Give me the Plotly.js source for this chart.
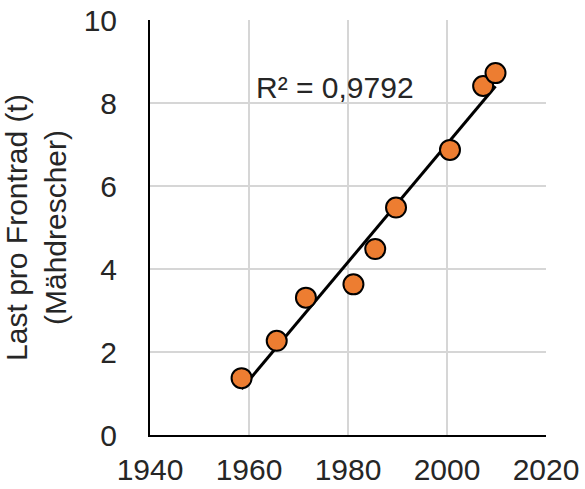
<!DOCTYPE html>
<html>
<head>
<meta charset="utf-8">
<script src="https://cdn.plot.ly/plotly-3.0.1.min.js"></script>
<style>html,body{margin:0;padding:0;background:#fff;}#chart{width:585px;height:489px;}</style>
</head>
<body>
<div id="chart"></div>
<script>
// Data
const years = [1958.5, 1965.6, 1971.5, 1981.1, 1985.5, 1989.7, 2000.6, 2007.3, 2009.8];
const loads = [1.37, 2.27, 3.31, 3.63, 4.48, 5.48, 6.87, 8.41, 8.72];
const xTicks = [1940, 1960, 1980, 2000, 2020];
const yTicks = [0, 2, 4, 6, 8, 10];
const r2Label = "R² = 0,9792";
const yTitle = "Last pro Frontrad (t)<br>(Mähdrescher)";

// Linear least-squares trendline over the data range
const n = years.length;
const mx = years.reduce((a, b) => a + b, 0) / n;
const my = loads.reduce((a, b) => a + b, 0) / n;
let sxy = 0, sxx = 0;
for (let i = 0; i < n; i++) { sxy += (years[i] - mx) * (loads[i] - my); sxx += (years[i] - mx) ** 2; }
const slope = sxy / sxx, icpt = my - slope * mx;
const xMin = Math.min(...years), xMax = Math.max(...years);
const trendX = [xMin, xMax];
const trendY = trendX.map(x => icpt + slope * x);

const font = {family: "Liberation Sans, Arial, sans-serif", size: 30, color: "#262626"};

const traces = [
  {x: trendX, y: trendY, mode: "lines", line: {color: "#000", width: 3}, hoverinfo: "skip"},
  {x: years, y: loads, mode: "markers",
   marker: {color: "#ED7D31", size: 20, line: {color: "#000", width: 2}}}
];

const layout = {
  width: 585, height: 489,
  margin: {l: 150, r: 39, t: 20, b: 54},
  paper_bgcolor: "#fff", plot_bgcolor: "#fff",
  showlegend: false,
  font: font,
  xaxis: {range: [1940, 2020], tickvals: xTicks, ticktext: xTicks.map(String),
          showgrid: true, gridcolor: "#d6d6d6", gridwidth: 1.5,
          showline: true, linecolor: "#000", linewidth: 2,
          zeroline: false, ticks: "", ticklabelstandoff: 7, tickfont: font, fixedrange: true},
  yaxis: {range: [0, 10], tickvals: yTicks, ticktext: yTicks.map(String),
          showgrid: true, gridcolor: "#d6d6d6", gridwidth: 1.5,
          showline: true, linecolor: "#000", linewidth: 2,
          zeroline: false, ticks: "", ticklabelstandoff: 25, tickfont: font,
          title: {text: yTitle, font: font, standoff: 8}, fixedrange: true},
  annotations: [{x: 1961, y: 8.37, xref: "x", yref: "y", text: r2Label, showarrow: false,
                 xanchor: "left", yanchor: "middle", font: font}]
};

Plotly.newPlot("chart", traces, layout, {displayModeBar: false, staticPlot: true});
</script>
</body>
</html>
